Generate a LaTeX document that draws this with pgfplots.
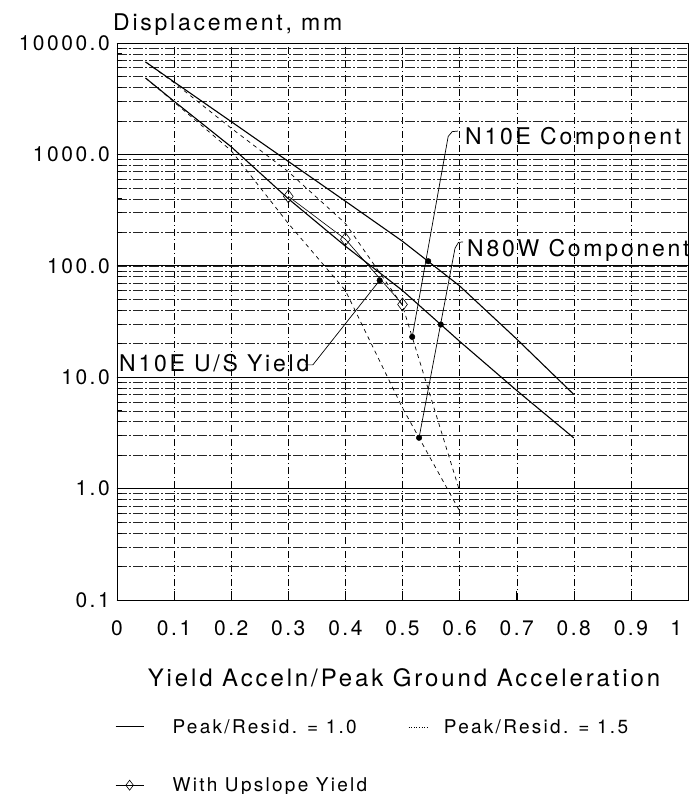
\documentclass[border=0pt]{standalone}
\usepackage{pgfplots}
\pgfplotsset{compat=1.18}
\usepackage{fontspec}
\setmainfont{TeX Gyre Heros}[LetterSpace=12]
\begin{document}
\begin{tikzpicture}
\begin{axis}[
  at={(0pt,0pt)}, anchor=south west,
  width=571pt, height=557pt, scale only axis,
  xmin=0, xmax=1, ymode=log, ymin=0.1, ymax=10000,
  xtick={0,0.1,0.2,0.3,0.4,0.5,0.6,0.7,0.8,0.9,1},
  xticklabels={0,0.1,0.2,0.3,0.4,0.5,0.6,0.7,0.8,0.9,{\llap{1}\phantom{1}}},
  ytick={0.1,1,10,100,1000,10000},
  yticklabels={0.1,1.0,10.0,100.0,1000.0,10000.0},
  xtick pos=lower, ytick pos=left,
  tick align=inside,
  major tick length=9pt, minor tick length=5pt,
  /pgf/number format/assume math mode=true,
  tick label style={font=\fontsize{21}{21}\selectfont},
  xticklabel style={anchor=north, inner sep=0pt, yshift=-20pt},
  yticklabel style={anchor=east, inner sep=0pt, xshift=-7pt},
  axis line style={black, line width=0.9pt},
  xmajorgrids, ymajorgrids, yminorgrids,
  major x grid style={black, line width=0.4pt, dash pattern=on 7pt off 3pt on 1pt off 3pt},
  major y grid style={black, line width=0.8pt},
  minor y grid style={black!85, line width=0.45pt, dash pattern=on 10pt off 2pt on 2pt off 2pt},
  every tick/.style={black, line width=0.6pt},
  clip=false,
  legend columns=2,
  legend cell align=left,
  legend style={draw=none, fill=none, at={(-0.0035,-0.2136)}, anchor=north west,
    inner sep=0pt, row sep=43pt,
    nodes={inner sep=0pt},
    font=\fontsize{19}{19}\selectfont,
    /tikz/every odd column/.append style={column sep=15pt},
    /tikz/every even column/.append style={column sep=41pt}},
  legend image code/.code={\draw[mark repeat=2,mark phase=2,#1] plot coordinates {(0pt,0pt)(14pt,0pt)(28pt,0pt)};
    \path[draw=none, fill=none] (0pt,0pt) rectangle (42pt,0.1pt);},
]
% legend entries
\addlegendimage{black, line width=0.8pt}
\addlegendentry{Peak/Resid. = 1.0}
\addlegendimage{legend image code/.code={\draw[black, line width=0.6pt, dotted] (0pt,0pt) -- (20pt,0pt);}}
\addlegendentry{Peak/Resid. = 1.5}
\addlegendimage{black, line width=0.6pt, mark=diamond, mark size=5pt, mark options={solid, fill=white}}
\addlegendentry{With Upslope Yield}

% N10E, Peak/Resid = 1.0
\addplot[black, line width=1.1pt] coordinates {
 (0.05,6760) (0.1,4470) (0.2,1970) (0.3,865) (0.4,380) (0.5,166) (0.6,66) (0.7,22) (0.8,7.0)};
% N80W, Peak/Resid = 1.0
\addplot[black, line width=1.1pt] coordinates {
 (0.05,4850) (0.1,3000) (0.2,1170) (0.3,400) (0.4,150) (0.5,60) (0.6,21) (0.7,7.6) (0.8,2.85)};
% N10E, Peak/Resid = 1.5
\addplot[black, line width=0.7pt, dash pattern=on 4pt off 4pt] coordinates {
 (0.05,6760) (0.1,4400) (0.2,1720) (0.3,700) (0.4,240) (0.5,44) (0.6,0.95)};
% N80W, Peak/Resid = 1.5
\addplot[black, line width=0.7pt, dash pattern=on 4pt off 4pt] coordinates {
 (0.05,4850) (0.1,2950) (0.2,1080) (0.3,240) (0.4,60) (0.5,5.3) (0.6,0.63)};
% N10E with upslope yield
\addplot[black, line width=0.6pt, mark=diamond, mark size=6.5pt, mark options={solid, fill=white}] coordinates {
 (0.3,420) (0.4,173) (0.5,45)};
% leader lines
\addplot[black, line width=0.7pt] coordinates {(0.517,23) (0.58,1450) (0.587,1600) (0.597,1620)};
\addplot[black, line width=0.7pt] coordinates {(0.529,2.86) (0.592,144) (0.598,162) (0.606,164)};
\addplot[black, line width=0.7pt] coordinates {(0.329,12.9) (0.343,12.9) (0.46,74)};
% pointer dots
\addplot[only marks, mark=*, mark size=2.8pt, black] coordinates {
 (0.46,74) (0.545,110) (0.517,23) (0.567,29.7) (0.529,2.86)};

\node[anchor=base west, font=\fontsize{23}{23}\selectfont, inner sep=0pt] at (rel axis cs:0.6095,0.8169) {N10E Component};
\node[anchor=base west, font=\fontsize{23}{23}\selectfont, inner sep=0pt] at (rel axis cs:0.613,0.6158) {N80W Component};
\node[anchor=base west, font=\fontsize{23}{23}\selectfont, inner sep=0pt] at (rel axis cs:0.0035,0.411) {N10E U/S Yield};
\node[anchor=base west, font=\fontsize{23}{23}\selectfont, inner sep=0pt] at (rel axis cs:-0.007,1.022) {Displacement, mm};
\node[anchor=base, font=\fontsize{24}{24}\selectfont, inner sep=0pt] at (rel axis cs:0.5026,-0.1557) {Yield Acceln/Peak Ground Acceleration};
\end{axis}
\pgfresetboundingbox
\path (-117pt,-194pt) rectangle (575pt,600pt);
\end{tikzpicture}
\end{document}
